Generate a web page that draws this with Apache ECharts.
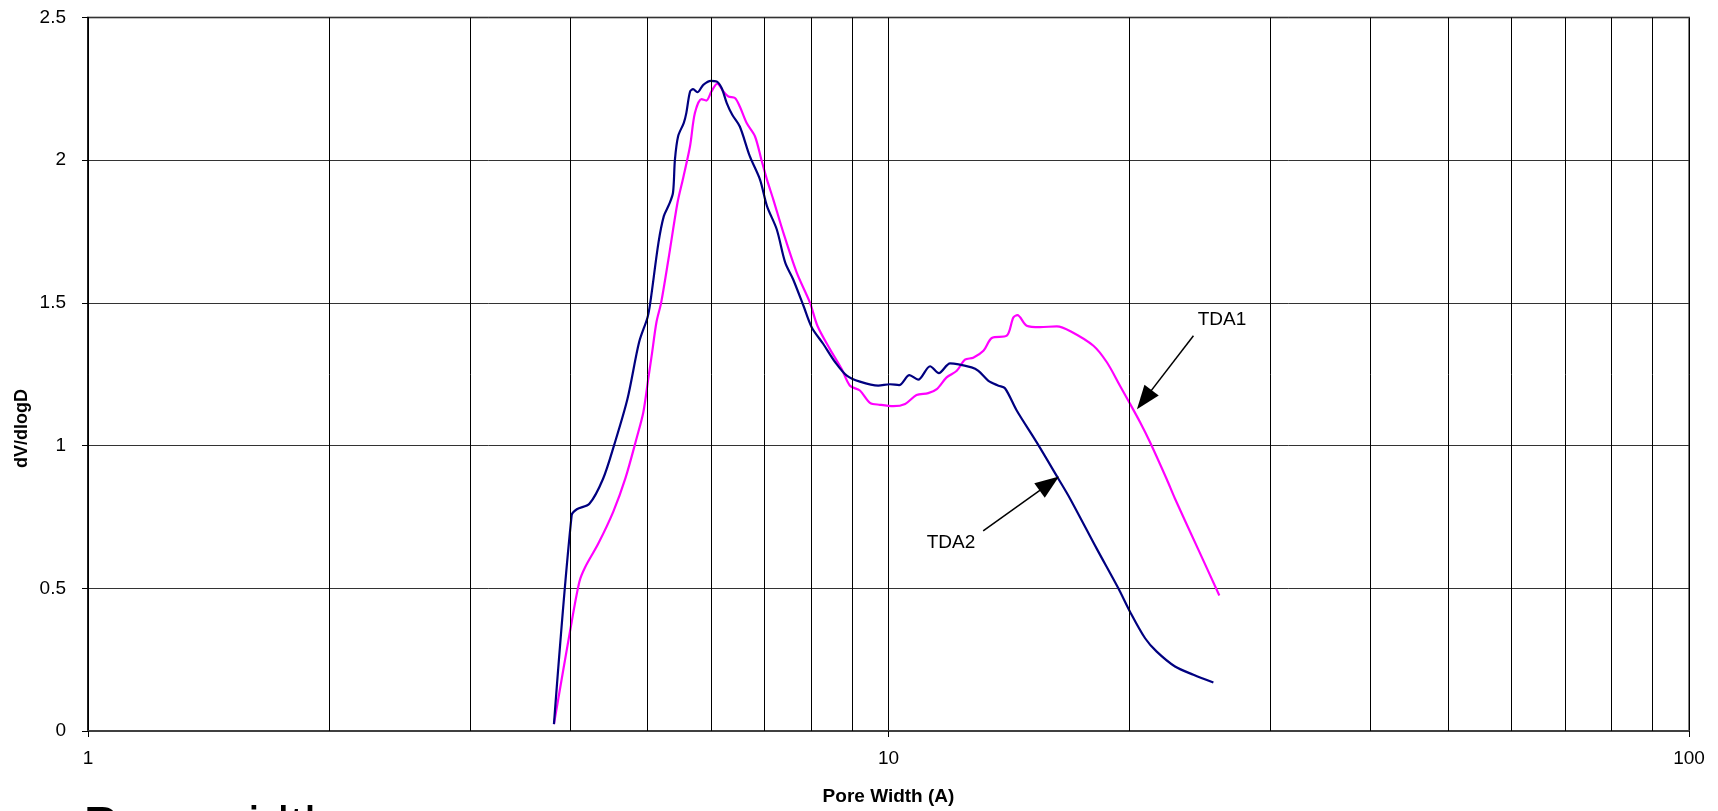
<!DOCTYPE html>
<html>
<head>
<meta charset="utf-8">
<script src="https://cdn.jsdelivr.net/npm/echarts@6/dist/echarts.min.js"></script>
<style>
html,body{margin:0;padding:0;background:#fff;}
#chart{width:1718px;height:811px;}
</style>
</head>
<body>
<div id="chart"></div>
<script>
// ---- data ----
const xTickLabels = [1, 10, 100];
const yTickLabels = [0, 0.5, 1, 1.5, 2, 2.5];
const minorGridValues = [2, 3, 4, 5, 6, 7, 8, 9, 20, 30, 40, 50, 60, 70, 80, 90];

const tda1Width = [3.82, 4.00, 4.11, 4.18, 4.34, 4.53, 4.69, 4.85, 4.94, 5.01, 5.06, 5.13, 5.20, 5.31, 5.45, 5.54, 5.65, 5.73, 5.84, 5.92, 6.01, 6.11, 6.22, 6.31, 6.43, 6.52, 6.65, 6.81, 6.94, 7.05, 7.18, 7.39, 7.68, 7.98, 8.15, 8.45, 8.74, 8.95, 9.21, 9.48, 9.76, 10.14, 10.49, 10.84, 11.21, 11.49, 11.82, 12.17, 12.46, 12.76, 13.14, 13.46, 14.05, 14.32, 14.49, 14.88, 15.46, 16.23, 16.9, 18.03, 18.74, 19.46, 20.0, 20.62, 21.22, 22.25, 22.80, 24.35, 25.9];
const tda1Value = [0.024, 0.348, 0.523, 0.575, 0.657, 0.768, 0.884, 1.030, 1.117, 1.233, 1.315, 1.432, 1.501, 1.653, 1.851, 1.938, 2.049, 2.165, 2.214, 2.209, 2.241, 2.268, 2.241, 2.223, 2.218, 2.188, 2.130, 2.084, 2.000, 1.932, 1.862, 1.746, 1.606, 1.500, 1.420, 1.338, 1.268, 1.210, 1.193, 1.150, 1.143, 1.138, 1.146, 1.177, 1.184, 1.198, 1.239, 1.262, 1.301, 1.308, 1.332, 1.377, 1.385, 1.449, 1.457, 1.420, 1.415, 1.418, 1.400, 1.350, 1.292, 1.210, 1.150, 1.082, 1.012, 0.884, 0.814, 0.639, 0.475];

const tda2Width = [3.82, 4.02, 4.08, 4.23, 4.40, 4.54, 4.72, 4.88, 5.00, 5.04, 5.16, 5.24, 5.32, 5.38, 5.41, 5.46, 5.55, 5.59, 5.65, 5.70, 5.77, 5.87, 6.00, 6.10, 6.19, 6.28, 6.38, 6.52, 6.71, 6.91, 7.05, 7.25, 7.43, 7.60, 7.83, 8.02, 8.29, 8.58, 8.87, 9.21, 9.71, 10.04, 10.31, 10.62, 10.89, 11.27, 11.56, 11.94, 12.70, 12.95, 13.33, 13.72, 13.98, 14.46, 15.31, 16.30, 16.86, 18.2, 19.37, 20.03, 20.92, 21.63, 22.80, 24.04, 25.46];
const tda2Value = [0.024, 0.756, 0.777, 0.796, 0.884, 1.000, 1.164, 1.362, 1.449, 1.501, 1.711, 1.804, 1.845, 1.886, 2.002, 2.084, 2.131, 2.165, 2.240, 2.249, 2.238, 2.264, 2.278, 2.276, 2.252, 2.200, 2.159, 2.118, 2.014, 1.932, 1.839, 1.758, 1.641, 1.583, 1.490, 1.414, 1.356, 1.292, 1.245, 1.224, 1.210, 1.215, 1.212, 1.247, 1.231, 1.278, 1.254, 1.288, 1.274, 1.262, 1.227, 1.210, 1.201, 1.123, 1.012, 0.884, 0.814, 0.639, 0.500, 0.418, 0.325, 0.278, 0.226, 0.197, 0.170];

// annotation anchors (data coordinates)
const tda1Label = [26.1, 1.44];
const tda1ArrowFrom = [24.04, 1.385];
const tda1ArrowTo = [20.87, 1.161];
const tda2Label = [11.97, 0.659];
const tda2ArrowFrom = [13.13, 0.701];
const tda2ArrowTo = [15.88, 0.867];

const zip = (a, b) => a.map((v, i) => [v, b[i]]);
const FONT = '"Liberation Sans", Arial, sans-serif';

const chart = echarts.init(document.getElementById('chart'), null, {renderer: 'canvas'});
chart.setOption({
  animation: false,
  backgroundColor: '#fff',
  grid: {left: 88, right: 29, top: 17.5, bottom: 78, show: true, borderColor: '#808080', borderWidth: 2, backgroundColor: 'transparent'},
  xAxis: {
    type: 'log', logBase: 10, min: xTickLabels[0], max: xTickLabels[xTickLabels.length - 1],
    name: 'Pore Width (A)', nameLocation: 'middle', nameGap: 56,
    nameTextStyle: {fontFamily: FONT, fontWeight: 'bold', fontSize: 19, color: '#000'},
    axisLine: {show: true, onZero: false, lineStyle: {color: '#404040', width: 2}},
    axisTick: {show: true, length: 6, lineStyle: {color: '#000', width: 1}},
    axisLabel: {fontFamily: FONT, fontSize: 19, color: '#000', margin: 18},
    splitLine: {show: true, lineStyle: {color: '#000', width: 1}}
  },
  yAxis: {
    type: 'value', min: yTickLabels[0], max: yTickLabels[yTickLabels.length - 1], interval: 0.5,
    axisLine: {show: true, lineStyle: {color: '#000', width: 1.5}},
    axisTick: {show: true, length: 6, lineStyle: {color: '#000', width: 1}},
    axisLabel: {fontFamily: FONT, fontSize: 19, color: '#000', margin: 22},
    splitLine: {show: true, lineStyle: {color: '#333', width: 1}}
  },
  series: [
    {
      type: 'line', name: 'grid', data: [], z: 1, silent: true,
      markLine: {
        silent: true, symbol: ['none', 'none'], animation: false,
        label: {show: false},
        lineStyle: {color: '#000', width: 1, type: 'solid'},
        data: minorGridValues.map(v => ({xAxis: v}))
      }
    },
    {
      type: 'line', name: 'TDA1', data: zip(tda1Width, tda1Value), z: 3,
      showSymbol: false, smooth: 0.3,
      lineStyle: {color: '#FF00FF', width: 2.2}, itemStyle: {color: '#FF00FF'}
    },
    {
      type: 'line', name: 'TDA2', data: zip(tda2Width, tda2Value), z: 4,
      showSymbol: false, smooth: 0.3,
      lineStyle: {color: '#000080', width: 2.2}, itemStyle: {color: '#000080'}
    },
    {
      type: 'line', name: 'annotations', data: [], z: 5, silent: true,
      markLine: {
        silent: true, animation: false,
        symbol: ['none', 'triangle'], symbolSize: [18, 24],
        label: {show: false},
        lineStyle: {color: '#000', width: 1.5, type: 'solid'},
        itemStyle: {color: '#000'},
        data: [
          [{coord: tda1ArrowFrom}, {coord: tda1ArrowTo}],
          [{coord: tda2ArrowFrom}, {coord: tda2ArrowTo}]
        ]
      },
      markPoint: {
        silent: true, animation: false,
        symbol: 'circle', symbolSize: 1, itemStyle: {color: 'rgba(0,0,0,0)'},
        label: {show: true, position: 'inside', formatter: '{b}', fontFamily: FONT, fontSize: 19, color: '#000'},
        data: [
          {name: 'TDA1', coord: tda1Label},
          {name: 'TDA2', coord: tda2Label}
        ]
      }
    }
  ],
  graphic: [
    {type: 'text', left: 13, top: 389, rotation: Math.PI / 2, originX: 0, originY: 0,
     style: {text: 'dV/dlogD', font: 'bold 18px ' + FONT, fill: '#000', align: 'center', verticalAlign: 'middle', x: 0, y: 0}},
    {type: 'text', left: 83, top: 803,
     style: {text: 'Pore width', font: '53px ' + FONT, fill: '#000'}}
  ]
});
</script>
</body>
</html>
